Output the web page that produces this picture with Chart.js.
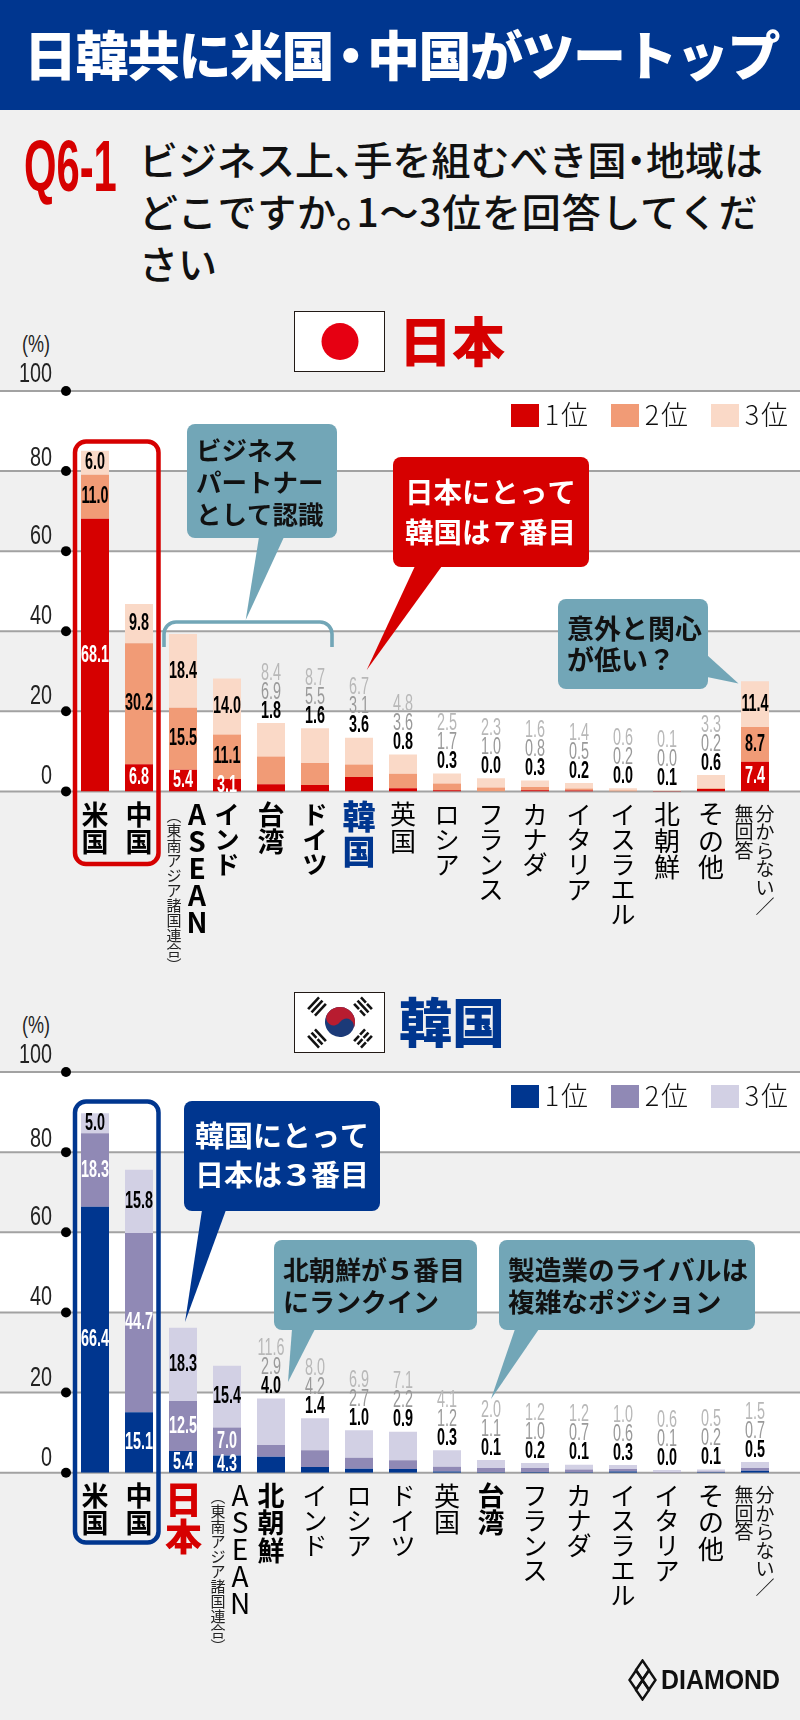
<!DOCTYPE html>
<html lang="ja"><head><meta charset="utf-8">
<script src="https://cdn.jsdelivr.net/npm/chart.js@4"></script>
<style>
html,body{margin:0;padding:0;background:#f0f0f0}
#page{position:relative;width:800px;height:1720px;overflow:hidden;background:#f0f0f0;font-family:"Noto Sans CJK JP",sans-serif}
#page>*{position:absolute}
canvas{position:absolute;left:0}
.hdr{left:0;top:0;width:800px;height:110px;background:#00368f}
.title{left:24px;top:15px;font-size:53px;letter-spacing:-1.5px;line-height:76px;font-weight:900;color:#fff;white-space:nowrap}
.title span{margin:0 -8.75px}
.q{left:24px;top:128px;font-family:"Liberation Sans",sans-serif;font-weight:700;font-size:72px;line-height:76px;color:#d60000;transform-origin:0 0;transform:scaleX(.58);white-space:nowrap}
.ql{left:139px;font-size:39px;line-height:52px;font-weight:500;color:#111;white-space:nowrap}
.ql .d{margin:0 -.25em}
.ql .p{margin-right:-.5em}
.flag{left:294px;width:89px;height:58.5px;background:#fff;border:1px solid #221a16}
.cty{left:399px;font-size:53px;line-height:60px;font-weight:900;white-space:nowrap}
.pct{left:22px;font-family:"Liberation Sans",sans-serif;font-size:24px;line-height:26px;color:#222;transform-origin:0 0;transform:scaleX(.75)}
.dia{left:661px;top:1664px;font-family:"Liberation Sans",sans-serif;font-weight:700;font-size:28px;line-height:32px;color:#111;transform-origin:0 0;transform:scaleX(.89);white-space:nowrap}
</style></head><body>
<div id="page">
<div class="hdr"></div>
<div class="title">日韓共に米国<span>・</span>中国がツートップ</div>
<div class="q">Q6-1</div>
<div class="ql" style="top:132px">ビジネス上<span class="p">、</span>手を組むべき国<span class="d">・</span>地域は</div>
<div class="ql" style="top:184px;letter-spacing:.8px">どこですか<span class="p">。</span>1～3位を回答してくだ</div>
<div class="ql" style="top:236px">さい</div>
<div class="flag" style="top:311px"></div>
<svg style="left:294px;top:311px" width="91" height="61"><circle cx="46" cy="30.5" r="18.5" fill="#e60012"/></svg>
<div class="cty" style="top:309px;color:#d60000">日本</div>
<div class="pct" style="top:331px">(%)</div>
<div class="flag" style="top:992px"></div>
<svg style="left:294px;top:992px" width="91" height="61" viewBox="0 0 91 61">
  <g transform="translate(46 30) rotate(33)">
    <circle r="15" fill="#1b3a78"/>
    <path d="M-15 0A15 15 0 0 1 15 0A7.5 7.5 0 0 0 0 0A7.5 7.5 0 0 1 -15 0Z" fill="#b81c30"/>
  </g>
  <g fill="#111">
    <g transform="translate(23 14.5) rotate(-47)"><rect x="-8" y="-6" width="16" height="2.6"/><rect x="-8" y="-1.3" width="16" height="2.6"/><rect x="-8" y="3.4" width="16" height="2.6"/></g>
    <g transform="translate(69 14.5) rotate(47)"><rect x="-8" y="-6" width="7.2" height="2.6"/><rect x=".8" y="-6" width="7.2" height="2.6"/><rect x="-8" y="-1.3" width="16" height="2.6"/><rect x="-8" y="3.4" width="7.2" height="2.6"/><rect x=".8" y="3.4" width="7.2" height="2.6"/></g>
    <g transform="translate(23 46.5) rotate(47)"><rect x="-8" y="-6" width="16" height="2.6"/><rect x="-8" y="-1.3" width="7.2" height="2.6"/><rect x=".8" y="-1.3" width="7.2" height="2.6"/><rect x="-8" y="3.4" width="16" height="2.6"/></g>
    <g transform="translate(69 46.5) rotate(-47)"><rect x="-8" y="-6" width="7.2" height="2.6"/><rect x=".8" y="-6" width="7.2" height="2.6"/><rect x="-8" y="-1.3" width="7.2" height="2.6"/><rect x=".8" y="-1.3" width="7.2" height="2.6"/><rect x="-8" y="3.4" width="7.2" height="2.6"/><rect x=".8" y="3.4" width="7.2" height="2.6"/></g>
  </g>
</svg>
<div class="cty" style="top:990px;color:#00368f">韓国</div>
<div class="pct" style="top:1012px">(%)</div>
<canvas id="jp" width="800" height="620" style="top:360px"></canvas>
<canvas id="kr" width="800" height="680" style="top:1040px"></canvas>
<svg style="left:628px;top:1659px" width="30" height="42" viewBox="0 0 30 42" fill="none" stroke="#111" stroke-width="2.4">
  <path d="M14.5 1.5L21 11L14.5 20.500L8 11Z"/><path d="M14.500 21.500L21 31L14.500 40.500L8 31Z"/>
  <path d="M8 11.500L14.500 21L8 30.500L1.500 21Z"/><path d="M21 11.500L27.500 21L21 30.500L14.500 21Z"/>
</svg>
<div class="dia">DIAMOND</div>
</div>
<script>
// ---------- data: Japan ----------
const categoriesJP = ['米国','中国','ASEAN','インド','台湾','ドイツ','韓国','英国','ロシア','フランス','カナダ','イタリア','イスラエル','北朝鮮','その他','分からない／'];
const rank1JP = [68.1,6.8,5.4,3.1,1.8,1.6,3.6,0.8,0.3,0.0,0.3,0.2,0.0,0.1,0.6,7.4];
const rank2JP = [11.0,30.2,15.5,11.1,6.9,5.5,3.1,3.6,1.7,1.0,0.8,0.5,0.2,0.0,0.2,8.7];
const rank3JP = [6.0,9.8,18.4,14.0,8.4,8.7,6.7,4.8,2.5,2.3,1.6,1.4,0.6,0.1,3.3,11.4];
// ---------- data: Korea ----------
const categoriesKR = ['米国','中国','日本','ASEAN','北朝鮮','インド','ロシア','ドイツ','英国','台湾','フランス','カナダ','イスラエル','イタリア','その他','分からない／'];
const rank1KR = [66.4,15.1,5.4,4.3,4.0,1.4,1.0,0.9,0.3,0.1,0.2,0.1,0.3,0.0,0.1,0.5];
const rank2KR = [18.3,44.7,12.5,7.0,2.9,4.2,2.7,2.2,1.2,1.1,1.0,0.7,0.6,0.1,0.2,0.7];
const rank3KR = [5.0,15.8,18.3,15.4,11.6,8.0,6.9,7.1,4.1,2.0,1.2,1.2,1.0,0.6,0.5,1.5];
const seriesNames = ['1位','2位','3位'];
const yTicks = [0,20,40,60,80,100];
const subLabels = {'ASEAN':'︵東南アジア諸国連合︶','分からない／':'無回答'};
const boldJP = ['米国','中国','ASEAN','インド','台湾','ドイツ'];
const boldKR = ['米国','中国','日本','北朝鮮','台湾'];
const insideJP = ['米国','中国','ASEAN','インド','分からない／'];
const insideKR = ['米国','中国','日本','ASEAN'];
const whiteRank2KR = ['米国','中国','日本','ASEAN'];

const CJK = '"Noto Sans CJK JP",sans-serif';
const LATIN = '"Liberation Sans",sans-serif';
const TEAL = '#72a6b7';

function bubble(ctx,x0,y0,x1,y1,r,tail,fill){
  ctx.fillStyle=fill;
  ctx.beginPath();ctx.roundRect(x0,y0,x1-x0,y1-y0,r);ctx.fill();
  ctx.beginPath();ctx.moveTo(tail[0][0],tail[0][1]);ctx.lineTo(tail[1][0],tail[1][1]);ctx.lineTo(tail[2][0],tail[2][1]);ctx.closePath();ctx.fill();
}
function lines(ctx,list,x,ys,size,color){
  ctx.font='700 '+size+'px '+CJK;ctx.fillStyle=color;ctx.textBaseline='middle';
  list.forEach((s,i)=>{
    let cx=x;
    s.split(/(\d)/).forEach(run=>{
      if(!run)return;
      if(/^\d$/.test(run)){
        ctx.save();ctx.translate(cx+size/2,ys[i]);ctx.scale(1.3,1);ctx.textAlign='center';ctx.fillText(run,0,0);ctx.restore();cx+=size;
      } else {ctx.textAlign='left';ctx.fillText(run,cx,ys[i]);cx+=ctx.measureText(run).width;}
    });
  });
}
function vtext(ctx,text,x,y,pitch,size,weight,color){
  ctx.font=weight+' '+size+'px '+CJK;ctx.fillStyle=color;ctx.textAlign='center';ctx.textBaseline='middle';
  Array.from(text).forEach((c,i)=>ctx.fillText(c,x,y+i*pitch));
}
function num(ctx,text,x,y,color,size,sx,weight,align){
  ctx.save();ctx.translate(x,y);ctx.scale(sx,1);
  ctx.font=weight+' '+size+'px '+LATIN;ctx.fillStyle=color;ctx.textAlign=align||'center';ctx.textBaseline='middle';
  ctx.fillText(text,0,0);ctx.restore();
}

function makePlugin(cfg){return {
  id:'deco'+cfg.key,
  beforeDraw(chart){
    const c=chart.ctx,y=chart.scales.y;
    c.save();
    c.fillStyle='#fff';
    [[100,80],[60,40],[20,0]].forEach(b=>{const a=y.getPixelForValue(b[0]),e=y.getPixelForValue(b[1]);c.fillRect(0,a,800,e-a);});
    y.ticks.forEach(t=>{
      const p=y.getPixelForValue(t.value);
      c.strokeStyle='#a2a2a2';c.lineWidth=2;c.beginPath();c.moveTo(0,p);c.lineTo(800,p);c.stroke();
      c.fillStyle='#000';c.beginPath();c.arc(66,p,5,0,Math.PI*2);c.fill();
      const off=t.value===100?-17:(t.value===80?-12.5:-14.5);
      num(c,String(t.value),52,p+off,'#222',27.5,.72,400,'right');
    });
    c.restore();
  },
  afterDatasetsDraw(chart){
    const c=chart.ctx,x=chart.scales.x,y=chart.scales.y;
    const ds=chart.data.datasets;
    c.save();
    chart.data.labels.forEach((cat,i)=>{
      const px=x.getPixelForValue(i);
      const v=ds.map(d=>d.data[i]);
      if(cfg.inside.includes(cat)){
        let base=0;
        v.forEach((val,k)=>{
          const mid=y.getPixelForValue(base+val/2);base+=val;
          let col='#000';
          if(k===0)col='#fff';
          if(k===1&&cfg.whiteRank2.includes(cat))col='#fff';
          num(c,val.toFixed(1),px,mid,col,24,.6,700);
        });
      } else {
        const top=y.getPixelForValue(v[0]+v[1]+v[2]);
        const cols=['#000','#9a9a9a','#b8b8b8'];
        v.forEach((val,k)=>num(c,val.toFixed(1),px,top-12-k*19,cols[k],24,.6,k===0?700:400));
      }
      const bold=cfg.bold.includes(cat);
      const weight=bold?700:400;
      const start=y.getPixelForValue(0)+23;
      if(cat==='ASEAN'){
        vtext(c,cat,px+cfg.aseanMain,start,27,28,weight,'#000');
        vtext(c,subLabels[cat],px-9,start+1,15,15,400,'#222');
      } else if(cat==='分からない／'){
        vtext(c,cat,px+10,start-1,18.6,19,400,'#111');
        vtext(c,subLabels[cat],px-11,start-1,18.6,19,400,'#111');
      } else if(cat==='日本'&&cfg.key==='KR'){
        vtext(c,cat,px+.5,start+4,37,37,900,'#d60000');
      } else if(cat==='韓国'&&cfg.key==='JP'){
        vtext(c,cat,px,start+2.4,34.6,33,900,'#00368f');
      } else {
        const kana=/[ァ-ヶ]/.test(cat);
        const s=bold?(kana?25:27):(kana?25:26);
        vtext(c,cat,px,start,kana?25:(bold?27.500:26.5),s,weight,'#000');
      }
    });
    c.restore();
    c.save();c.translate(0,-cfg.canvasTop);
    c.textBaseline='middle';
    ds.forEach((d,k)=>{
      const sx=511+k*100;
      c.fillStyle=d.backgroundColor;c.fillRect(sx,cfg.legendY,28,23);
      c.fillStyle='#111';c.font='300 27px '+CJK;
      const name=d.label;
      c.textAlign='center';c.fillText(name[0],sx+41,cfg.legendY+11);
      c.textAlign='left';c.fillText(name.slice(1),sx+50,cfg.legendY+11);
    });
    cfg.decorate(c);c.restore();
  }
};}

function build(id,cfg,cats,r1,r2,r3,colors,plotTop,plotBottom){
  const canvas=document.getElementById(id);
  new Chart(canvas,{
    type:'bar',
    data:{labels:cats,datasets:[r1,r2,r3].map((d,k)=>({label:seriesNames[k],data:d,backgroundColor:colors[k],borderWidth:0,stack:'s',barPercentage:28/44,categoryPercentage:1}))},
    options:{
      responsive:false,animation:false,
      layout:{padding:{top:plotTop-cfg.canvasTop,bottom:canvas.height-(plotBottom-cfg.canvasTop),left:0,right:23}},
      plugins:{legend:{display:false},tooltip:{enabled:false}},
      scales:{
        x:{display:false,stacked:true,offset:true},
        y:{stacked:true,min:0,max:100,
           afterFit(s){s.width=73;s.paddingTop=0;s.paddingBottom=0;},
           afterBuildTicks(s){s.ticks=yTicks.map(v=>({value:v}));},
           border:{display:false},grid:{display:false},
           ticks:{display:false}}
      }
    },
    plugins:[makePlugin(cfg)]
  });
}

build('jp',{key:'JP',canvasTop:360,inside:insideJP,whiteRank2:[],bold:boldJP,aseanMain:14,legendY:404,
  decorate(c){
    c.lineWidth=4.5;c.strokeStyle='#d60000';c.beginPath();c.roundRect(75,441.500,83.500,422.500,11);c.stroke();
    c.lineWidth=3.6;c.strokeStyle=TEAL;c.beginPath();c.moveTo(164,647);c.lineTo(164,634);c.arcTo(164,622,176,622,12);c.lineTo(320,622);c.arcTo(332,622,332,634,12);c.lineTo(332,647);c.stroke();
    bubble(c,187,424,337,538,8,[[259,537],[284,537],[245.700,620]],TEAL);
    lines(c,['ビジネス','パートナー','として認識'],196,[450,482,514],25.5,'#111');
    bubble(c,393,457,589,567,8,[[415,566],[442,566],[366.700,670]],'#d60000');
    lines(c,['日本にとって','韓国は7番目'],405,[492,532],28.5,'#fff');
    bubble(c,558,599,708,689,8,[[707,655],[707,677],[738.500,683.500]],TEAL);
    lines(c,['意外と関心','が低い？'],567,[628.500,660],27,'#111');
  }},categoriesJP,rank1JP,rank2JP,rank3JP,['#d60000','#f19b76','#fad9c7'],391,791.400);

build('kr',{key:'KR',canvasTop:1040,inside:insideKR,whiteRank2:whiteRank2KR,bold:boldKR,aseanMain:13,legendY:1085,
  decorate(c){
    c.lineWidth=4.5;c.strokeStyle='#00368f';c.beginPath();c.roundRect(75,1101.500,83.500,441,11);c.stroke();
    bubble(c,184,1101,380,1211,8,[[202,1210],[226,1210],[185,1322]],'#00368f');
    lines(c,['韓国にとって','日本は3番目'],195,[1136,1175],29,'#fff');
    bubble(c,274,1240,477,1330,8,[[292,1329],[315,1329],[288,1382]],TEAL);
    lines(c,['北朝鮮が5番目','にランクイン'],283,[1270,1302],26,'#111');
    bubble(c,499,1240,755,1330,8,[[515,1329],[539,1329],[491,1399]],TEAL);
    lines(c,['製造業のライバルは','複雑なポジション'],508,[1270,1302],26.700,'#111');
  }},categoriesKR,rank1KR,rank2KR,rank3KR,['#00368f','#9089b5','#d2d0e4'],1072,1472.700);
</script>
</body></html>
